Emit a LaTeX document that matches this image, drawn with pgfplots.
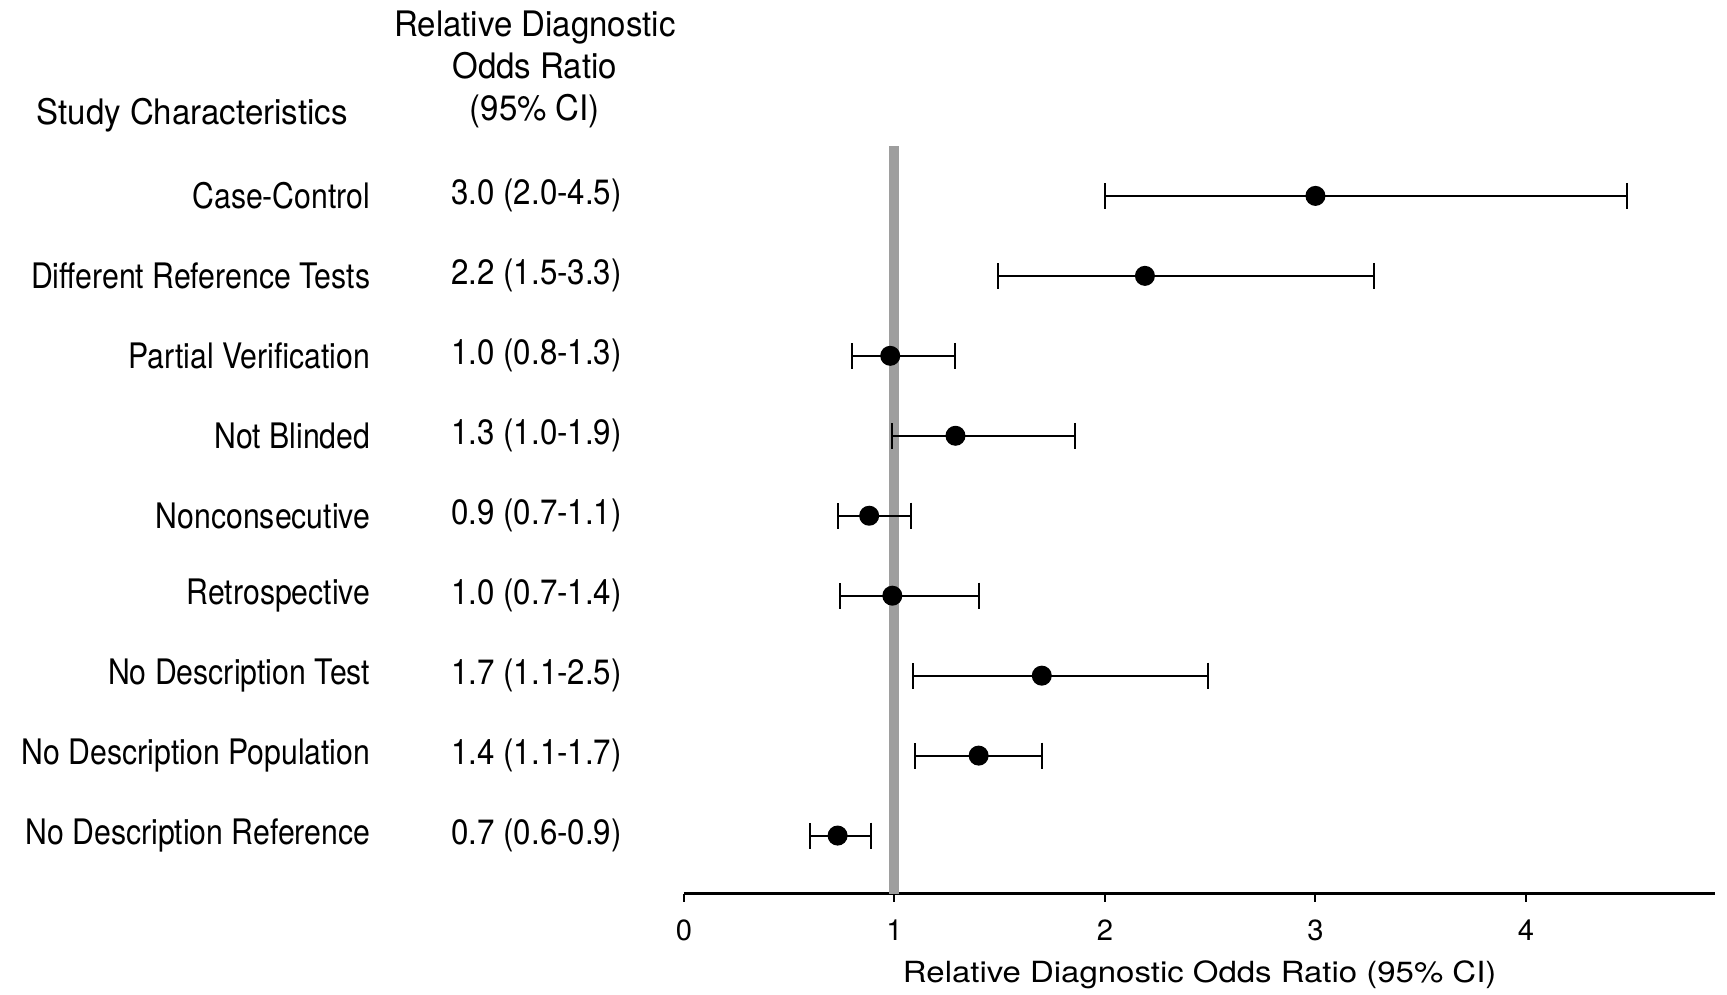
\documentclass[border=0pt]{standalone}
\usepackage{fontspec}
\setmainfont{TeX Gyre Heros}
\usepackage{graphicx}
\usepackage{pgfplots}
\usepackage{pgfplotstable}
\pgfplotsset{compat=1.18}

\newcommand\ff{\fontsize{8.3pt}{12.2pt}\selectfont}
\newcommand\lab[1]{\scalebox{0.86}[1]{#1}}
\newcommand\val[1]{\scalebox{0.89}[1]{#1}}
\newcommand\hdr[1]{\scalebox{0.94}[1]{#1}}

% row (9 = top), estimate, lower and upper limit of the 95% CI
\pgfplotstableread{
row est lo hi
9 3.00 2.00 4.48
8 2.19 1.49 3.28
7 0.98 0.80 1.29
6 1.29 0.99 1.86
5 0.88 0.73 1.08
4 0.99 0.74 1.40
3 1.70 1.09 2.49
2 1.40 1.10 1.70
1 0.73 0.60 0.89
}\dorows

\begin{document}
\begin{tikzpicture}
\begin{axis}[
  scale only axis,
  width=10.32cm, height=7.48cm,
  xmin=0, xmax=4.9,
  ymin=0.275, ymax=9.625,
  axis x line=bottom,
  hide y axis,
  axis line style={-, line width=0.03cm},
  xtick={0,1,2,3,4},
  tick align=outside,
  major tick length=0.08cm,
  tick style={line width=0.02cm, black},
  xticklabel style={yshift=-0.06cm},
  /pgf/number format/assume math mode=true,
  ticklabel style={font=\ff},
  xlabel={\scalebox{1.13}[1]{Relative Diagnostic Odds Ratio (95\% CI)}},
  xlabel style={font=\ff, inner sep=0pt, at={(axis description cs:0.5,0)}, anchor=center, yshift=-0.81cm},
  clip=false,
  every node/.append style={font=\ff, text height=0.72em, text depth=0.2em},
]
% reference line at 1
\addplot[black!38, line width=0.1cm, forget plot] coordinates {(1,0.275) (1,9.625)};

% confidence intervals and estimates
\addplot[black, line width=0.02cm, only marks, mark=*, mark size=0.09cm,
  error bars/.cd, x dir=both, x explicit,
  error mark=|, error mark options={line width=0.02cm, mark size=0.13cm},
  error bar style={line width=0.02cm}]
  table[x=est, y=row,
    x error minus expr=\thisrow{est}-\thisrow{lo},
    x error plus expr=\thisrow{hi}-\thisrow{est}] {\dorows};

% header
\node[anchor=west, inner sep=0pt] at (axis cs:-3.078,10.01) {\hdr{Study Characteristics}};
\node[align=center, inner sep=0pt, text height=, text depth=] at (axis cs:-0.708,10.58)
  {\hdr{Relative Diagnostic}\\\hdr{Odds Ratio}\\\hdr{(95\% CI)}};

% row labels
\begin{scope}[every node/.append style={anchor=east, inner sep=0pt}]
\node at (axis cs:-1.487,9) {\lab{Case-Control}};
\node at (axis cs:-1.487,8) {\lab{Different Reference Tests}};
\node at (axis cs:-1.487,7) {\lab{Partial Verification}};
\node at (axis cs:-1.487,6) {\lab{Not Blinded}};
\node at (axis cs:-1.487,5) {\lab{Nonconsecutive}};
\node at (axis cs:-1.487,4) {\lab{Retrospective}};
\node at (axis cs:-1.487,3) {\lab{No Description Test}};
\node at (axis cs:-1.487,2) {\lab{No Description Population}};
\node at (axis cs:-1.487,1) {\lab{No Description Reference}};
\end{scope}

% estimates as text
\node at (axis cs:-0.70,9) {\val{3.0 (2.0-4.5)}};
\node at (axis cs:-0.70,8) {\val{2.2 (1.5-3.3)}};
\node at (axis cs:-0.70,7) {\val{1.0 (0.8-1.3)}};
\node at (axis cs:-0.70,6) {\val{1.3 (1.0-1.9)}};
\node at (axis cs:-0.70,5) {\val{0.9 (0.7-1.1)}};
\node at (axis cs:-0.70,4) {\val{1.0 (0.7-1.4)}};
\node at (axis cs:-0.70,3) {\val{1.7 (1.1-2.5)}};
\node at (axis cs:-0.70,2) {\val{1.4 (1.1-1.7)}};
\node at (axis cs:-0.70,1) {\val{0.7 (0.6-0.9)}};

% page size of the reference
\path (axis cs:-3.249,-0.9875) rectangle (axis cs:4.955,11.45);
\end{axis}
\end{tikzpicture}
\end{document}
